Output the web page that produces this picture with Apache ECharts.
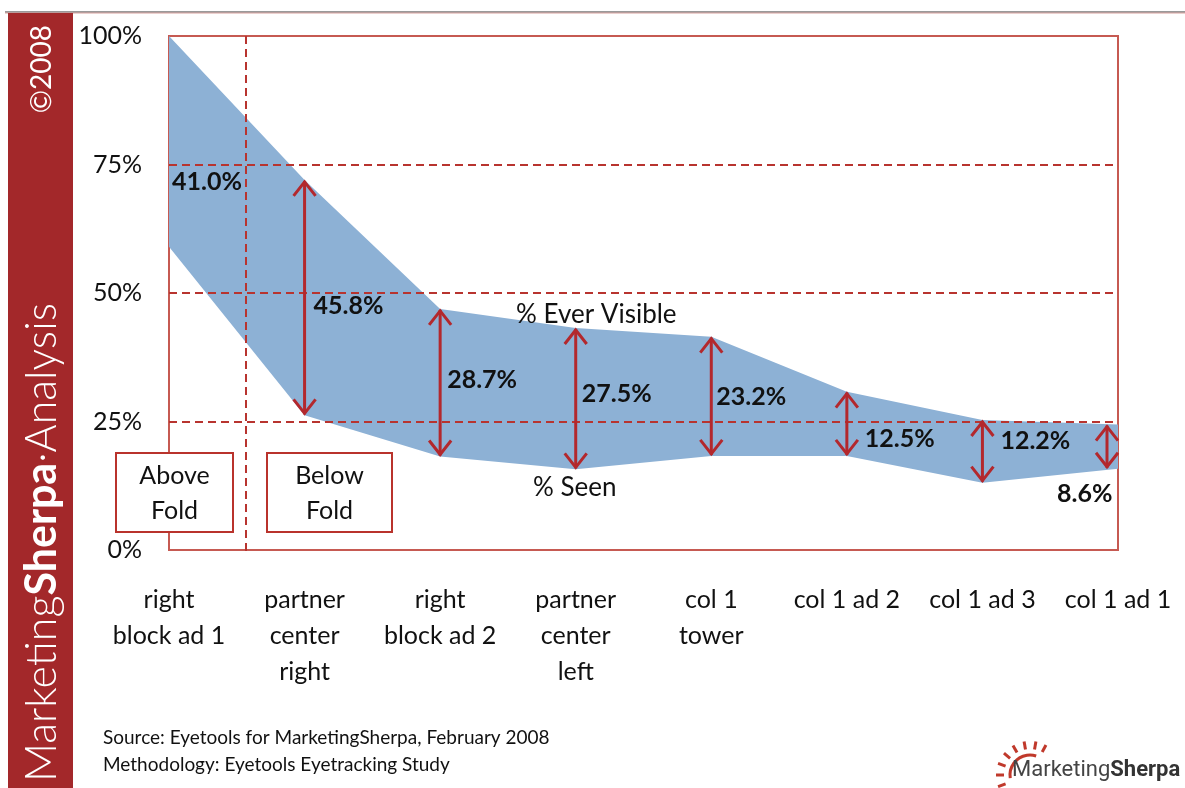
<!DOCTYPE html>
<html>
<head>
<meta charset="utf-8">
<script src="https://cdn.jsdelivr.net/npm/echarts@6/dist/echarts.min.js"></script>
<style>
  html, body { margin: 0; padding: 0; background: #fff; }
  #main { width: 1185px; height: 788px; }
</style>
</head>
<body>
<div id="main"></div>
<script>
// ad positions on the page, left to right
var categories = ['right\nblock ad 1', 'partner\ncenter\nright', 'right\nblock ad 2', 'partner\ncenter\nleft',
  'col 1\ntower', 'col 1 ad 2', 'col 1 ad 3', 'col 1 ad 1'];
// % ever visible (upper edge) and % seen (lower edge)
var everVisible = [100, 72.0, 46.9, 43.2, 41.5, 30.8, 25.3, 24.4];
var seen = [59.0, 26.2, 18.2, 15.7, 18.3, 18.3, 13.1, 15.8];
var gapLabels = ['41.0%', '45.8%', '28.7%', '27.5%', '23.2%', '12.5%', '12.2%', '8.6%'];
var yTicks = [0, 25, 50, 75, 100];

// label nudges (px) relative to arrow midpoint
var labelShift = [[3, 41], [9, 8], [7, -3], [6, -5], [5, 1], [18, 15], [18, -10], [-50, 47]];
var arrowShift = [0, 0, 0, 0, 0, 0, 0, -11];

var red = '#b3282d';
var dashRed = '#b8342f';
var font = 'Lato';

var gap = everVisible.map(function (v, i) { return +(v - seen[i]).toFixed(1); });
var arrowData = categories.map(function (c, i) { return [i, everVisible[i], seen[i]]; });

var chart = echarts.init(document.getElementById('main'));

function renderArrow(params, api) {
  var i = api.value(0);
  var top = api.coord([i, api.value(1)]);
  var bot = api.coord([i, api.value(2)]);
  var x = top[0] + arrowShift[i];
  var kids = [];
  if (i > 0) {
    var st = { stroke: red, lineWidth: 3, fill: null };
    kids.push({ type: 'line', shape: { x1: x, y1: top[1] + 1, x2: x, y2: bot[1] - 1 }, style: st });
    kids.push({ type: 'polyline', shape: { points: [[x - 11, top[1] + 16], [x, top[1] + 2], [x + 11, top[1] + 16]] }, style: st });
    kids.push({ type: 'polyline', shape: { points: [[x - 11, bot[1] - 16], [x, bot[1] - 2], [x + 11, bot[1] - 16]] }, style: st });
  }
  var midY = (top[1] + bot[1]) / 2;
  kids.push({
    type: 'text',
    style: {
      x: x + labelShift[i][0], y: midY + labelShift[i][1],
      text: gapLabels[i], fill: '#111',
      font: 'bold 25px ' + font,
      align: 'left', verticalAlign: 'middle'
    }
  });
  return { type: 'group', children: kids };
}

function foldBox(x, y, w, h, txt) {
  return {
    type: 'group', z: 20,
    children: [
      { type: 'rect', shape: { x: x, y: y, width: w, height: h }, style: { fill: '#fff', stroke: '#b9332c', lineWidth: 2 } },
      { type: 'text', style: { x: x + w / 2, y: y + h / 2 + 1, text: txt, font: '25px ' + font, fill: '#111', align: 'center', verticalAlign: 'middle', lineHeight: 35 } }
    ]
  };
}

var option = {
  animation: false,
  backgroundColor: '#fff',
  grid: {
    left: 169, right: 67, top: 36, bottom: 238,
    show: true, borderColor: '#c65a52', borderWidth: 2, backgroundColor: 'transparent'
  },
  xAxis: {
    type: 'category',
    data: categories,
    boundaryGap: false,
    axisLine: { show: false },
    axisTick: { show: false },
    axisLabel: { interval: 0, margin: 32, fontSize: 25, lineHeight: 36, color: '#111', fontFamily: font }
  },
  yAxis: {
    type: 'value',
    z: 5,
    min: yTicks[0], max: yTicks[yTicks.length - 1], interval: 25,
    axisLine: { show: false },
    axisTick: { show: false },
    axisLabel: { formatter: '{value}%', fontSize: 25, margin: 27, color: '#111', fontFamily: font },
    splitLine: {
      show: true, showMinLine: false, showMaxLine: false,
      lineStyle: { type: [8, 5], color: dashRed, width: 2 }
    }
  },
  series: [
    {
      name: '% Seen', type: 'line', stack: 'band', data: seen,
      symbol: 'none', lineStyle: { width: 0, opacity: 0 }, z: 1
    },
    {
      name: '% Ever Visible', type: 'line', stack: 'band', data: gap,
      symbol: 'none', lineStyle: { width: 0, opacity: 0 },
      areaStyle: { color: '#8db1d5', opacity: 1 }, z: 1
    },
    {
      type: 'custom', data: arrowData, renderItem: renderArrow, clip: false, z: 10,
      encode: { x: 0, y: [1, 2] }
    }
  ],
  graphic: [
    { type: 'line', shape: { x1: 5, y1: 12, x2: 1185, y2: 12 }, style: { stroke: '#9a9a9a', lineWidth: 2 } },
    { type: 'line', shape: { x1: 5, y1: 13, x2: 1185, y2: 13 }, style: { stroke: '#d9a19e', lineWidth: 1 } },
    { type: 'rect', shape: { x: 8, y: 13, width: 65, height: 775 }, style: { fill: '#a3282a' } },
    {
      type: 'text', x: 42, y: 782, rotation: Math.PI / 2,
      style: {
        text: '{a|Marketing}{b|Sherpa}{a|·Analysis}',
        align: 'left', verticalAlign: 'middle',
        rich: {
          a: { fontSize: 43, fontFamily: font, fill: '#fff', fontWeight: 300 },
          b: { fontSize: 43, fontFamily: font, fill: '#fff', fontWeight: 'bold' }
        }
      }
    },
    {
      type: 'text', x: 42, y: 25, rotation: Math.PI / 2,
      style: { text: '©2008', font: '28px ' + font, fill: '#fff', align: 'right', verticalAlign: 'middle' }
    },
    { type: 'line', z: 5, shape: { x1: 246, y1: 36, x2: 246, y2: 553 }, style: { stroke: dashRed, lineWidth: 2, lineDash: [8, 5] } },
    foldBox(116, 453, 117, 79, 'Above\nFold'),
    foldBox(267, 453, 125, 79, 'Below\nFold'),
    { type: 'text', z: 20, style: { x: 516, y: 315, text: '% Ever Visible', font: '26px ' + font, fill: '#111', verticalAlign: 'middle' } },
    { type: 'text', z: 20, style: { x: 533, y: 488, text: '% Seen', font: '26px ' + font, fill: '#111', verticalAlign: 'middle' } },
    { type: 'text', style: { x: 103, y: 738, text: 'Source: Eyetools for MarketingSherpa, February 2008', font: '19px ' + font, fill: '#111', verticalAlign: 'middle' } },
    { type: 'text', style: { x: 103, y: 765, text: 'Methodology: Eyetools Eyetracking Study', font: '19px ' + font, fill: '#111', verticalAlign: 'middle' } },
    // logo
    { type: 'arc', shape: { cx: 1030, cy: 775, r: 20, startAngle: Math.PI * 0.95, endAngle: Math.PI * 1.6 }, style: { stroke: '#c0392b', lineWidth: 3, fill: null } },
    {
      type: 'group',
      children: [200, 180, 160, 140, 120, 100, 80, 62].map(function (deg) {
        var a = deg * Math.PI / 180;
        return {
          type: 'line',
          shape: { x1: 1030 + Math.cos(a) * 26, y1: 775 - Math.sin(a) * 26, x2: 1030 + Math.cos(a) * 34, y2: 775 - Math.sin(a) * 34 },
          style: { stroke: '#c0392b', lineWidth: 3 }
        };
      })
    },
    {
      type: 'text',
      style: {
        x: 1012, y: 770, text: '{a|Marketing}{b|Sherpa}', verticalAlign: 'middle',
        rich: {
          a: { fontSize: 22, fontFamily: 'Roboto', fill: '#444' },
          b: { fontSize: 22, fontFamily: 'Roboto', fill: '#333', fontWeight: 'bold' }
        }
      }
    }
  ]
};

chart.setOption(option);
</script>
</body>
</html>
